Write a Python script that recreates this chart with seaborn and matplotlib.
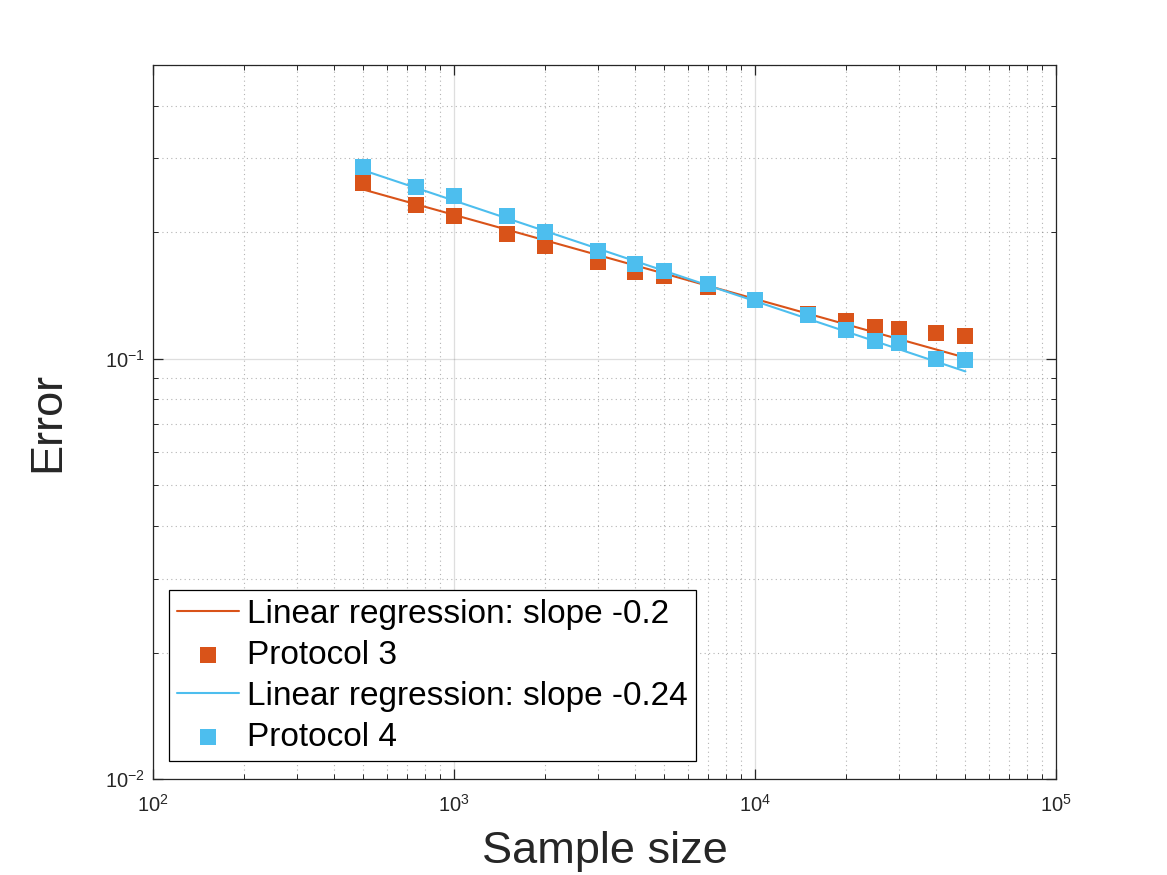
import numpy as np
import pandas as pd
import seaborn as sns
from matplotlib import pyplot as plt

# Data
sample_size = [500, 750, 1000, 1500, 2000, 3000, 4000, 5000, 7000,
               10000, 15000, 20000, 25000, 30000, 40000, 50000]
error_p3 = [0.262, 0.232, 0.219, 0.198, 0.185, 0.170, 0.161, 0.157, 0.148,
            0.138, 0.128, 0.123, 0.119, 0.118, 0.115, 0.113]
error_p4 = [0.286, 0.256, 0.244, 0.219, 0.200, 0.180, 0.168, 0.162, 0.151,
            0.138, 0.127, 0.117, 0.110, 0.109, 0.100, 0.0993]

# Regression line end points
fit_x = [500, 50000]
fit_p3 = [0.2527, 0.1006]
fit_p4 = [0.2808, 0.0933]

labels = ["Linear regression: slope -0.2", "Protocol 3",
          "Linear regression: slope -0.24", "Protocol 4"]

ORANGE = "#D95319"
BLUE = "#4DBEEE"
DARK = "#262626"

sns.set_style("ticks")
plt.rcParams['font.family'] = ['Liberation Sans', 'DejaVu Sans']
plt.rcParams['mathtext.fontset'] = 'custom'
plt.rcParams['mathtext.rm'] = 'Liberation Sans'

fig = plt.figure(figsize=(11.67, 8.75), dpi=100)
ax = fig.add_axes([0.1311, 0.1097, 0.7738, 0.8160])

df = pd.DataFrame({"n": sample_size, "p3": error_p3, "p4": error_p4})
fit = pd.DataFrame({"n": fit_x, "p3": fit_p3, "p4": fit_p4})

sns.lineplot(data=fit, x="n", y="p3", color=ORANGE, lw=1.5, ax=ax,
             label=labels[0], zorder=3)
sns.scatterplot(data=df, x="n", y="p3", color=ORANGE, marker="s", s=125,
                linewidth=0, ax=ax, label=labels[1], zorder=4)
sns.lineplot(data=fit, x="n", y="p4", color=BLUE, lw=1.5, ax=ax,
             label=labels[2], zorder=5)
sns.scatterplot(data=df, x="n", y="p4", color=BLUE, marker="s", s=125,
                linewidth=0, ax=ax, label=labels[3], zorder=6)

ax.set_xscale("log")
ax.set_yscale("log")
ax.set_xlim(1e2, 1e5)
ax.set_ylim(1e-2, 0.5)

# MATLAB-like grid and box
ax.set_axisbelow(True)
ax.grid(which="major", color=DARK, alpha=0.15, linestyle="-", lw=0.9)
ax.grid(which="minor", color=DARK, alpha=0.35, linestyle=(0, (1, 3)), lw=0.8)
for side in ["top", "right", "bottom", "left"]:
    ax.spines[side].set_visible(True)
    ax.spines[side].set_color(DARK)
    ax.spines[side].set_linewidth(0.9)
ax.tick_params(which="both", direction="in", top=True, right=True,
               colors=DARK, labelsize=14.5)
ax.tick_params(which="major", length=7, width=0.9)
ax.tick_params(which="minor", length=3.5, width=0.7)
ax.tick_params(axis="x", pad=11)
ax.tick_params(axis="y", pad=6)

ax.set_xlabel("Sample size", fontsize=32.5, color=DARK, labelpad=11)
ax.set_ylabel("Error", fontsize=32.5, color=DARK, labelpad=26)

leg = ax.legend(loc="lower left", bbox_to_anchor=(0.0177, 0.0252),
                borderaxespad=0, fontsize=24, frameon=True, fancybox=False,
                framealpha=1, edgecolor="black", handlelength=1.85,
                handletextpad=0.25, labelspacing=0.3, borderpad=0.25,
                labelcolor="black")
leg.get_frame().set_linewidth(0.9)

fig.savefig("out.png", dpi=100)
